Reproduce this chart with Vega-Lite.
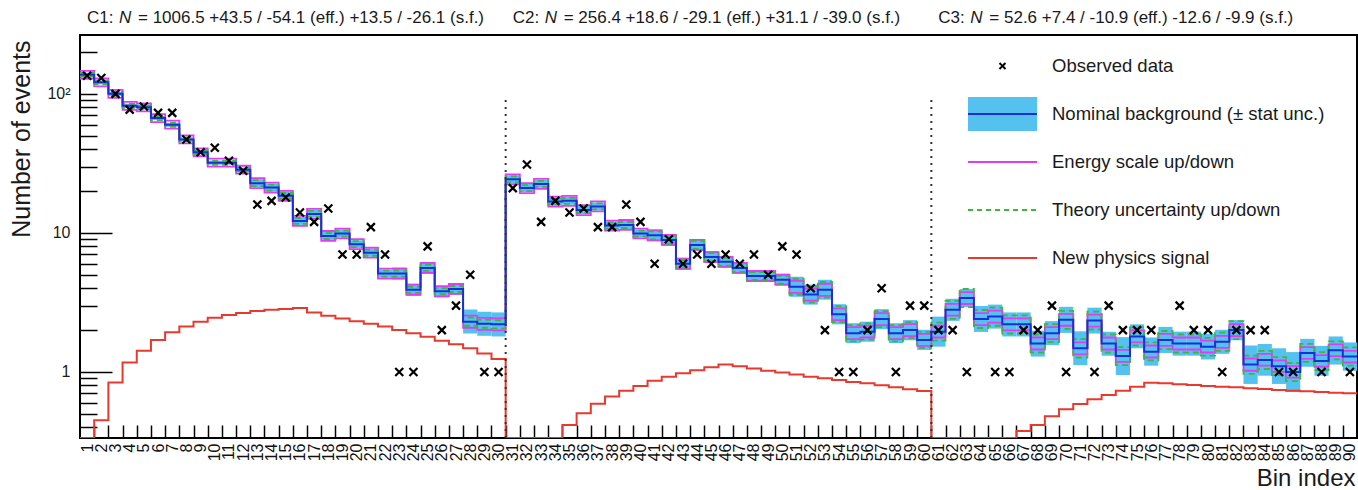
{
"$schema": "https://vega.github.io/schema/vega-lite/v6.json",
"width": 1277, "height": 403,
"autosize": {"type": "none"},
"padding": {"left": 80, "top": 35, "right": 1, "bottom": 52},
"background": "white",
"config": {
 "view": {"stroke": "#000", "strokeWidth": 2},
 "axis": {"labelFont": "Liberation Sans", "titleFont": "Liberation Sans"},
 "text": {"font": "Liberation Sans"}
},
"data": {"values": [
{"b":1,"lo":0.5,"hi":1.5,"nom":137,"nlo":132.5,"nhi":141.7,"eu":146.3,"ed":128.3,"tu":141.7,"td":132.5,"sig":0.3,"obs":135},
{"b":2,"lo":1.5,"hi":2.5,"nom":121,"nlo":117.0,"nhi":125.1,"eu":129.2,"ed":113.3,"tu":125.1,"td":117.0,"sig":0.45,"obs":130},
{"b":3,"lo":2.5,"hi":3.5,"nom":100,"nlo":96.7,"nhi":103.4,"eu":106.8,"ed":93.6,"tu":103.4,"td":96.7,"sig":0.84,"obs":100},
{"b":4,"lo":3.5,"hi":4.5,"nom":82,"nlo":79.3,"nhi":84.8,"eu":87.6,"ed":76.8,"tu":84.8,"td":79.3,"sig":1.17,"obs":77},
{"b":5,"lo":4.5,"hi":5.5,"nom":80,"nlo":77.4,"nhi":82.7,"eu":85.4,"ed":74.9,"tu":82.7,"td":77.4,"sig":1.42,"obs":81},
{"b":6,"lo":5.5,"hi":6.5,"nom":67,"nlo":64.8,"nhi":69.3,"eu":71.6,"ed":62.7,"tu":69.3,"td":64.8,"sig":1.7,"obs":73},
{"b":7,"lo":6.5,"hi":7.5,"nom":60,"nlo":58.0,"nhi":62.0,"eu":64.1,"ed":56.2,"tu":62.0,"td":58.0,"sig":1.93,"obs":73},
{"b":8,"lo":7.5,"hi":8.5,"nom":47,"nlo":45.5,"nhi":48.6,"eu":50.2,"ed":44.0,"tu":48.6,"td":45.5,"sig":2.12,"obs":47},
{"b":9,"lo":8.5,"hi":9.5,"nom":38,"nlo":36.8,"nhi":39.3,"eu":40.6,"ed":35.6,"tu":39.3,"td":36.8,"sig":2.3,"obs":38},
{"b":10,"lo":9.5,"hi":10.5,"nom":32,"nlo":30.9,"nhi":33.1,"eu":34.2,"ed":30.0,"tu":33.1,"td":30.9,"sig":2.45,"obs":41},
{"b":11,"lo":10.5,"hi":11.5,"nom":32,"nlo":30.9,"nhi":33.1,"eu":34.2,"ed":30.0,"tu":33.1,"td":30.9,"sig":2.57,"obs":33},
{"b":12,"lo":11.5,"hi":12.5,"nom":28.5,"nlo":27.6,"nhi":29.5,"eu":30.4,"ed":26.7,"tu":29.5,"td":27.6,"sig":2.66,"obs":28},
{"b":13,"lo":12.5,"hi":13.5,"nom":22.8,"nlo":21.35,"nhi":24.35,"eu":24.76,"ed":21.0,"tu":23.96,"td":21.69,"sig":2.74,"obs":16},
{"b":14,"lo":13.5,"hi":14.5,"nom":21.2,"nlo":19.85,"nhi":22.64,"eu":23.02,"ed":19.52,"tu":22.28,"td":20.17,"sig":2.8,"obs":17},
{"b":15,"lo":14.5,"hi":15.5,"nom":18.5,"nlo":17.32,"nhi":19.76,"eu":20.09,"ed":17.03,"tu":19.44,"td":17.6,"sig":2.84,"obs":18},
{"b":16,"lo":15.5,"hi":16.5,"nom":12.2,"nlo":11.42,"nhi":13.03,"eu":13.25,"ed":11.23,"tu":12.82,"td":11.61,"sig":2.88,"obs":14},
{"b":17,"lo":16.5,"hi":17.5,"nom":13.7,"nlo":12.83,"nhi":14.63,"eu":14.88,"ed":12.62,"tu":14.4,"td":13.04,"sig":2.68,"obs":12},
{"b":18,"lo":17.5,"hi":18.5,"nom":9.5,"nlo":8.9,"nhi":10.15,"eu":10.32,"ed":8.75,"tu":9.98,"td":9.04,"sig":2.54,"obs":15},
{"b":19,"lo":18.5,"hi":19.5,"nom":9.9,"nlo":9.27,"nhi":10.57,"eu":10.75,"ed":9.12,"tu":10.4,"td":9.42,"sig":2.42,"obs":7},
{"b":20,"lo":19.5,"hi":20.5,"nom":8.3,"nlo":7.77,"nhi":8.86,"eu":9.01,"ed":7.64,"tu":8.72,"td":7.9,"sig":2.32,"obs":7},
{"b":21,"lo":20.5,"hi":21.5,"nom":7.2,"nlo":6.74,"nhi":7.69,"eu":7.82,"ed":6.63,"tu":7.57,"td":6.85,"sig":2.22,"obs":11},
{"b":22,"lo":21.5,"hi":22.5,"nom":5.1,"nlo":4.78,"nhi":5.45,"eu":5.54,"ed":4.7,"tu":5.36,"td":4.85,"sig":2.12,"obs":7},
{"b":23,"lo":22.5,"hi":23.5,"nom":5.1,"nlo":4.62,"nhi":5.63,"eu":5.54,"ed":4.7,"tu":5.36,"td":4.85,"sig":2.0,"obs":1},
{"b":24,"lo":23.5,"hi":24.5,"nom":3.9,"nlo":3.53,"nhi":4.31,"eu":4.24,"ed":3.59,"tu":4.1,"td":3.71,"sig":1.9,"obs":1},
{"b":25,"lo":24.5,"hi":25.5,"nom":5.6,"nlo":5.07,"nhi":6.18,"eu":6.08,"ed":5.16,"tu":5.89,"td":5.33,"sig":1.79,"obs":8},
{"b":26,"lo":25.5,"hi":26.5,"nom":3.8,"nlo":3.44,"nhi":4.2,"eu":4.13,"ed":3.5,"tu":3.99,"td":3.62,"sig":1.68,"obs":2},
{"b":27,"lo":26.5,"hi":27.5,"nom":3.95,"nlo":3.58,"nhi":4.36,"eu":4.29,"ed":3.64,"tu":4.15,"td":3.76,"sig":1.58,"obs":3},
{"b":28,"lo":27.5,"hi":28.5,"nom":2.3,"nlo":1.89,"nhi":2.81,"eu":2.54,"ed":2.08,"tu":2.46,"td":2.15,"sig":1.48,"obs":5},
{"b":29,"lo":28.5,"hi":29.5,"nom":2.22,"nlo":1.82,"nhi":2.71,"eu":2.45,"ed":2.01,"tu":2.37,"td":2.08,"sig":1.36,"obs":1},
{"b":30,"lo":29.5,"hi":30.5,"nom":2.2,"nlo":1.8,"nhi":2.68,"eu":2.43,"ed":1.99,"tu":2.35,"td":2.06,"sig":1.24,"obs":1},
{"b":31,"lo":30.5,"hi":31.5,"nom":24.3,"nlo":22.75,"nhi":25.95,"eu":26.39,"ed":22.38,"tu":25.54,"td":23.12,"sig":0.3,"obs":21},
{"b":32,"lo":31.5,"hi":32.5,"nom":21,"nlo":19.66,"nhi":22.43,"eu":22.81,"ed":19.34,"tu":22.07,"td":19.98,"sig":0.3,"obs":31},
{"b":33,"lo":32.5,"hi":33.5,"nom":22.5,"nlo":21.07,"nhi":24.03,"eu":24.44,"ed":20.72,"tu":23.65,"td":21.41,"sig":0.3,"obs":12},
{"b":34,"lo":33.5,"hi":34.5,"nom":16.8,"nlo":15.73,"nhi":17.94,"eu":18.24,"ed":15.47,"tu":17.66,"td":15.98,"sig":0.3,"obs":17},
{"b":35,"lo":34.5,"hi":35.5,"nom":17.0,"nlo":15.92,"nhi":18.16,"eu":18.46,"ed":15.65,"tu":17.87,"td":16.18,"sig":0.416,"obs":14},
{"b":36,"lo":35.5,"hi":36.5,"nom":14.6,"nlo":13.67,"nhi":15.59,"eu":15.86,"ed":13.44,"tu":15.34,"td":13.89,"sig":0.505,"obs":15},
{"b":37,"lo":36.5,"hi":37.5,"nom":15.5,"nlo":14.51,"nhi":16.55,"eu":16.83,"ed":14.27,"tu":16.29,"td":14.75,"sig":0.59,"obs":11},
{"b":38,"lo":37.5,"hi":38.5,"nom":11.3,"nlo":10.58,"nhi":12.07,"eu":12.27,"ed":10.41,"tu":11.88,"td":10.75,"sig":0.665,"obs":11},
{"b":39,"lo":38.5,"hi":39.5,"nom":11.4,"nlo":10.67,"nhi":12.18,"eu":12.38,"ed":10.5,"tu":11.98,"td":10.85,"sig":0.734,"obs":16},
{"b":40,"lo":39.5,"hi":40.5,"nom":9.9,"nlo":9.27,"nhi":10.57,"eu":10.75,"ed":9.12,"tu":10.4,"td":9.42,"sig":0.793,"obs":12},
{"b":41,"lo":40.5,"hi":41.5,"nom":9.6,"nlo":8.7,"nhi":10.6,"eu":10.43,"ed":8.84,"tu":10.25,"td":8.99,"sig":0.866,"obs":6},
{"b":42,"lo":41.5,"hi":42.5,"nom":8.9,"nlo":8.06,"nhi":9.83,"eu":9.67,"ed":8.2,"tu":9.51,"td":8.33,"sig":0.925,"obs":9},
{"b":43,"lo":42.5,"hi":43.5,"nom":6.0,"nlo":5.43,"nhi":6.62,"eu":6.52,"ed":5.52,"tu":6.41,"td":5.62,"sig":0.978,"obs":6},
{"b":44,"lo":43.5,"hi":44.5,"nom":8.2,"nlo":7.43,"nhi":9.05,"eu":8.91,"ed":7.55,"tu":8.76,"td":7.68,"sig":1.03,"obs":7},
{"b":45,"lo":44.5,"hi":45.5,"nom":6.7,"nlo":6.07,"nhi":7.4,"eu":7.28,"ed":6.17,"tu":7.16,"td":6.27,"sig":1.08,"obs":6},
{"b":46,"lo":45.5,"hi":46.5,"nom":6.2,"nlo":5.62,"nhi":6.84,"eu":6.73,"ed":5.71,"tu":6.62,"td":5.81,"sig":1.13,"obs":7},
{"b":47,"lo":46.5,"hi":47.5,"nom":5.6,"nlo":5.07,"nhi":6.18,"eu":6.08,"ed":5.16,"tu":5.98,"td":5.24,"sig":1.1,"obs":6},
{"b":48,"lo":47.5,"hi":48.5,"nom":4.9,"nlo":4.44,"nhi":5.41,"eu":5.32,"ed":4.51,"tu":5.23,"td":4.59,"sig":1.06,"obs":7},
{"b":49,"lo":48.5,"hi":49.5,"nom":4.9,"nlo":4.44,"nhi":5.41,"eu":5.32,"ed":4.51,"tu":5.23,"td":4.59,"sig":1.02,"obs":5},
{"b":50,"lo":49.5,"hi":50.5,"nom":4.6,"nlo":4.17,"nhi":5.08,"eu":5.0,"ed":4.24,"tu":4.91,"td":4.31,"sig":0.99,"obs":8},
{"b":51,"lo":50.5,"hi":51.5,"nom":4.1,"nlo":3.47,"nhi":4.84,"eu":4.53,"ed":3.71,"tu":4.68,"td":3.59,"sig":0.96,"obs":7},
{"b":52,"lo":51.5,"hi":52.5,"nom":3.6,"nlo":3.05,"nhi":4.25,"eu":3.97,"ed":3.26,"tu":4.11,"td":3.15,"sig":0.925,"obs":4},
{"b":53,"lo":52.5,"hi":53.5,"nom":3.9,"nlo":3.31,"nhi":4.6,"eu":4.31,"ed":3.53,"tu":4.45,"td":3.42,"sig":0.9,"obs":2},
{"b":54,"lo":53.5,"hi":54.5,"nom":2.6,"nlo":2.2,"nhi":3.07,"eu":2.87,"ed":2.36,"tu":2.97,"td":2.28,"sig":0.876,"obs":1},
{"b":55,"lo":54.5,"hi":55.5,"nom":1.9,"nlo":1.61,"nhi":2.24,"eu":2.1,"ed":1.72,"tu":2.17,"td":1.66,"sig":0.847,"obs":1},
{"b":56,"lo":55.5,"hi":56.5,"nom":1.95,"nlo":1.65,"nhi":2.3,"eu":2.15,"ed":1.77,"tu":2.23,"td":1.71,"sig":0.829,"obs":2},
{"b":57,"lo":56.5,"hi":57.5,"nom":2.4,"nlo":2.03,"nhi":2.83,"eu":2.65,"ed":2.17,"tu":2.74,"td":2.1,"sig":0.802,"obs":4},
{"b":58,"lo":57.5,"hi":58.5,"nom":1.9,"nlo":1.61,"nhi":2.24,"eu":2.1,"ed":1.72,"tu":2.17,"td":1.66,"sig":0.776,"obs":1},
{"b":59,"lo":58.5,"hi":59.5,"nom":2.0,"nlo":1.69,"nhi":2.36,"eu":2.21,"ed":1.81,"tu":2.28,"td":1.75,"sig":0.751,"obs":3},
{"b":60,"lo":59.5,"hi":60.5,"nom":1.7,"nlo":1.44,"nhi":2.01,"eu":1.88,"ed":1.54,"tu":1.94,"td":1.49,"sig":0.73,"obs":3},
{"b":61,"lo":60.5,"hi":61.5,"nom":1.95,"nlo":1.52,"nhi":2.5,"eu":2.15,"ed":1.77,"tu":2.26,"td":1.68,"sig":0.3,"obs":2},
{"b":62,"lo":61.5,"hi":62.5,"nom":2.8,"nlo":2.33,"nhi":3.36,"eu":3.09,"ed":2.54,"tu":3.25,"td":2.41,"sig":0.3,"obs":2},
{"b":63,"lo":62.5,"hi":63.5,"nom":3.4,"nlo":2.93,"nhi":3.95,"eu":3.75,"ed":3.08,"tu":3.95,"td":2.93,"sig":0.3,"obs":1},
{"b":64,"lo":63.5,"hi":64.5,"nom":2.4,"nlo":1.94,"nhi":2.98,"eu":2.65,"ed":2.17,"tu":2.79,"td":2.07,"sig":0.3,"obs":null},
{"b":65,"lo":64.5,"hi":65.5,"nom":2.5,"nlo":2.05,"nhi":3.05,"eu":2.76,"ed":2.26,"tu":2.9,"td":2.15,"sig":0.3,"obs":1},
{"b":66,"lo":65.5,"hi":66.5,"nom":2.2,"nlo":1.8,"nhi":2.68,"eu":2.43,"ed":1.99,"tu":2.55,"td":1.89,"sig":0.3,"obs":1},
{"b":67,"lo":66.5,"hi":67.5,"nom":2.2,"nlo":1.8,"nhi":2.68,"eu":2.43,"ed":1.99,"tu":2.55,"td":1.89,"sig":0.376,"obs":2},
{"b":68,"lo":67.5,"hi":68.5,"nom":1.6,"nlo":1.29,"nhi":1.98,"eu":1.77,"ed":1.45,"tu":1.86,"td":1.38,"sig":0.416,"obs":2},
{"b":69,"lo":68.5,"hi":69.5,"nom":1.9,"nlo":1.56,"nhi":2.32,"eu":2.1,"ed":1.72,"tu":2.21,"td":1.64,"sig":0.48,"obs":3},
{"b":70,"lo":69.5,"hi":70.5,"nom":2.37,"nlo":1.91,"nhi":2.94,"eu":2.62,"ed":2.15,"tu":2.75,"td":2.04,"sig":0.539,"obs":1},
{"b":71,"lo":70.5,"hi":71.5,"nom":1.48,"nlo":1.12,"nhi":1.96,"eu":1.63,"ed":1.34,"tu":1.72,"td":1.27,"sig":0.589,"obs":null},
{"b":72,"lo":71.5,"hi":72.5,"nom":2.34,"nlo":1.89,"nhi":2.9,"eu":2.58,"ed":2.12,"tu":2.72,"td":2.02,"sig":0.636,"obs":1},
{"b":73,"lo":72.5,"hi":73.5,"nom":1.6,"nlo":1.31,"nhi":1.95,"eu":1.77,"ed":1.45,"tu":1.86,"td":1.38,"sig":0.683,"obs":3},
{"b":74,"lo":73.5,"hi":74.5,"nom":1.3,"nlo":0.95,"nhi":1.78,"eu":1.44,"ed":1.18,"tu":1.51,"td":1.12,"sig":0.734,"obs":2},
{"b":75,"lo":74.5,"hi":75.5,"nom":1.8,"nlo":1.48,"nhi":2.2,"eu":1.99,"ed":1.63,"tu":2.09,"td":1.55,"sig":0.784,"obs":2},
{"b":76,"lo":75.5,"hi":76.5,"nom":1.4,"nlo":1.11,"nhi":1.77,"eu":1.55,"ed":1.27,"tu":1.63,"td":1.21,"sig":0.838,"obs":2},
{"b":77,"lo":76.5,"hi":77.5,"nom":1.7,"nlo":1.37,"nhi":2.11,"eu":1.88,"ed":1.54,"tu":1.97,"td":1.46,"sig":0.829,"obs":null},
{"b":78,"lo":77.5,"hi":78.5,"nom":1.6,"nlo":1.31,"nhi":1.95,"eu":1.77,"ed":1.45,"tu":1.86,"td":1.38,"sig":0.815,"obs":3},
{"b":79,"lo":78.5,"hi":79.5,"nom":1.6,"nlo":1.31,"nhi":1.95,"eu":1.77,"ed":1.45,"tu":1.86,"td":1.38,"sig":0.806,"obs":2},
{"b":80,"lo":79.5,"hi":80.5,"nom":1.52,"nlo":1.23,"nhi":1.88,"eu":1.68,"ed":1.38,"tu":1.76,"td":1.31,"sig":0.793,"obs":2},
{"b":81,"lo":80.5,"hi":81.5,"nom":1.65,"nlo":1.35,"nhi":2.01,"eu":1.82,"ed":1.49,"tu":1.92,"td":1.42,"sig":0.784,"obs":1},
{"b":82,"lo":81.5,"hi":82.5,"nom":2.0,"nlo":1.69,"nhi":2.36,"eu":2.21,"ed":1.81,"tu":2.32,"td":1.72,"sig":0.776,"obs":2},
{"b":83,"lo":82.5,"hi":83.5,"nom":1.13,"nlo":0.82,"nhi":1.55,"eu":1.25,"ed":1.02,"tu":1.31,"td":0.97,"sig":0.763,"obs":2},
{"b":84,"lo":83.5,"hi":84.5,"nom":1.22,"nlo":0.94,"nhi":1.59,"eu":1.35,"ed":1.11,"tu":1.42,"td":1.05,"sig":0.755,"obs":2},
{"b":85,"lo":84.5,"hi":85.5,"nom":1.1,"nlo":0.82,"nhi":1.48,"eu":1.21,"ed":1.0,"tu":1.28,"td":0.95,"sig":0.742,"obs":1},
{"b":86,"lo":85.5,"hi":86.5,"nom":1.0,"nlo":0.72,"nhi":1.39,"eu":1.1,"ed":0.91,"tu":1.16,"td":0.86,"sig":0.734,"obs":1},
{"b":87,"lo":86.5,"hi":87.5,"nom":1.37,"nlo":1.09,"nhi":1.73,"eu":1.51,"ed":1.24,"tu":1.59,"td":1.18,"sig":0.726,"obs":null},
{"b":88,"lo":87.5,"hi":88.5,"nom":1.2,"nlo":0.94,"nhi":1.54,"eu":1.32,"ed":1.09,"tu":1.39,"td":1.03,"sig":0.718,"obs":1},
{"b":89,"lo":88.5,"hi":89.5,"nom":1.43,"nlo":1.13,"nhi":1.8,"eu":1.58,"ed":1.3,"tu":1.66,"td":1.23,"sig":0.71,"obs":null},
{"b":90,"lo":89.5,"hi":90.5,"nom":1.29,"nlo":1.02,"nhi":1.63,"eu":1.42,"ed":1.17,"tu":1.5,"td":1.11,"sig":0.703,"obs":1}
]},
"layer": [
 {"layer": [
  {"mark": {"type": "rect", "fill": "#55c1ef", "opacity": 1, "clip": true},
   "encoding": {
    "x": {"field": "lo", "type": "quantitative", "title": "Bin index",
      "scale": {"domain": [0.5, 90.5], "nice": false, "zero": false},
      "axis": {"values": [1,1.5,2,2.5,3,3.5,4,4.5,5,5.5,6,6.5,7,7.5,8,8.5,9,9.5,10,10.5,11,11.5,12,12.5,13,13.5,14,14.5,15,15.5,16,16.5,17,17.5,18,18.5,19,19.5,20,20.5,21,21.5,22,22.5,23,23.5,24,24.5,25,25.5,26,26.5,27,27.5,28,28.5,29,29.5,30,30.5,31,31.5,32,32.5,33,33.5,34,34.5,35,35.5,36,36.5,37,37.5,38,38.5,39,39.5,40,40.5,41,41.5,42,42.5,43,43.5,44,44.5,45,45.5,46,46.5,47,47.5,48,48.5,49,49.5,50,50.5,51,51.5,52,52.5,53,53.5,54,54.5,55,55.5,56,56.5,57,57.5,58,58.5,59,59.5,60,60.5,61,61.5,62,62.5,63,63.5,64,64.5,65,65.5,66,66.5,67,67.5,68,68.5,69,69.5,70,70.5,71,71.5,72,72.5,73,73.5,74,74.5,75,75.5,76,76.5,77,77.5,78,78.5,79,79.5,80,80.5,81,81.5,82,82.5,83,83.5,84,84.5,85,85.5,86,86.5,87,87.5,88,88.5,89,89.5,90],
        "tickCount": 500,
        "labelExpr": "datum.value % 1 === 0 ? format(datum.value, 'd') : ''",
        "labelAngle": 270, "labelAlign": "right", "labelBaseline": "middle",
        "labelFontSize": 16, "labelColor": "#111111", "labelOverlap": false, "labelFlush": false, "labelBound": false,
        "labelPadding": 18, "tickSize": -13, "tickWidth": 1.5,
        "tickColor": {"condition": {"test": "datum.value % 1 === 0", "value": "transparent"}, "value": "#000000"},
        "domain": false, "grid": false,
        "titleFontSize": 24, "titleFontWeight": "normal", "titleColor": "#1a1a1a",
        "titleAlign": "right", "titleBaseline": "alphabetic", "titleAngle": 0, "titleX": 1275, "titleY": 47}},
    "x2": {"field": "hi"},
    "y": {"field": "nlo", "type": "quantitative", "title": "Number of events",
      "scale": {"type": "log", "domain": [0.335, 265], "clamp": true, "nice": false, "zero": false},
      "axis": {"values": [0.4,0.5,0.6,0.7,0.8,0.9,1,2,3,4,5,6,7,8,9,10,20,30,40,50,60,70,80,90,100,200],
        "tickCount": 500,
        "labelExpr": "datum.value === 1 ? '1' : datum.value === 10 ? '10' : datum.value === 100 ? '10²' : ''",
        "labelFontSize": 16, "labelColor": "#1a1a1a", "labelOverlap": false, "labelFlush": false, "labelBound": false,
        "labelPadding": 42, "tickSize": -32, "tickWidth": 1.5, "tickColor": "#000",
        "tickDash": {"condition": {"test": "datum.value === 1 || datum.value === 10", "value": [1, 0]}, "value": [17, 100]},
        "domain": false, "grid": false,
        "titleFontSize": 25, "titleFontWeight": "normal", "titleColor": "#1a1a1a",
        "titleAngle": 270, "titleAlign": "right", "titleBaseline": "middle", "titleX": -59, "titleY": 5}},
    "y2": {"field": "nhi"}
   }},
  {"transform": [{"fold": ["lo", "hi"], "as": ["edge", "xe"]}, {"fold": ["eu", "ed"], "as": ["var", "val"]}],
   "mark": {"type": "line", "strokeWidth": 1.8, "clip": true},
   "encoding": {
    "x": {"field": "xe", "type": "quantitative", "title": "Bin index"},
    "y": {"field": "val", "type": "quantitative", "title": "Number of events"},
    "detail": {"field": "var"},
    "color": {"datum": "Energy scale up/down", "type": "nominal",
      "scale": {"domain": ["Observed data", "Nominal background (± stat unc.)", "Energy scale up/down", "Theory uncertainty up/down", "New physics signal"],
                "range": ["#000000", "#1a2fd8", "#e23cf2", "#3db83d", "#e8392e"]},
      "legend": {"title": null, "orient": "none", "legendX": 911.5, "legendY": 20, "padding": 0, "rowPadding": 0, "offset": 0,
        "direction": "vertical", "symbolSize": 400, "symbolStrokeWidth": 2, "symbolOffset": 0, "labelOffset": 38.5,
        "labelFontSize": 18.5, "labelFont": "Liberation Sans", "labelColor": "#1a1a1a", "labelLimit": 500,
        "encode": {"symbols": {"update": {
          "shape": {"signal": "datum.value === 'Observed data' ? 'M-0.3,-0.3L0.3,0.3M-0.3,0.3L0.3,-0.3M-3.45,-2M3.45,2' : indexof(datum.value, 'Nominal') === 0 ? 'M-3.45,0H3.45V-1.7H-3.45V1.7H3.45V0M-3.45,-2M3.45,2' : 'M-3.45,0H3.45M-3.45,-2M3.45,2'"},
          "fill": {"signal": "indexof(datum.value, 'Nominal') === 0 ? '#55c1ef' : 'transparent'"},
          "stroke": {"signal": "datum.value === 'Observed data' ? '#000000' : indexof(datum.value, 'Nominal') === 0 ? '#1a2fd8' : datum.value === 'Energy scale up/down' ? '#e23cf2' : datum.value === 'New physics signal' ? '#e8392e' : '#3db83d'"},
          "strokeDash": {"signal": "datum.value === 'Theory uncertainty up/down' ? [5, 4] : indexof(datum.value, 'Nominal') === 0 ? [69, 500] : [1, 0]"},
          "strokeWidth": {"value": 2},
          "opacity": {"value": 1}
        }}}}}
   }},
  {"transform": [{"fold": ["lo", "hi"], "as": ["edge", "xe"]}, {"fold": ["tu", "td"], "as": ["var", "val"]}],
   "mark": {"type": "line", "strokeWidth": 1.8, "strokeDash": [6, 4], "clip": true},
   "encoding": {
    "x": {"field": "xe", "type": "quantitative", "title": "Bin index"},
    "y": {"field": "val", "type": "quantitative", "title": "Number of events"},
    "detail": {"field": "var"},
    "color": {"datum": "Theory uncertainty up/down", "type": "nominal"}
   }},
  {"transform": [{"fold": ["lo", "hi"], "as": ["edge", "xe"]}],
   "mark": {"type": "line", "strokeWidth": 2, "clip": true},
   "encoding": {
    "x": {"field": "xe", "type": "quantitative", "title": "Bin index"},
    "y": {"field": "nom", "type": "quantitative", "title": "Number of events"},
    "color": {"datum": "Nominal background (± stat unc.)", "type": "nominal"}
   }},
  {"transform": [{"fold": ["lo", "hi"], "as": ["edge", "xe"]}],
   "mark": {"type": "line", "strokeWidth": 2, "clip": true},
   "encoding": {
    "x": {"field": "xe", "type": "quantitative", "title": "Bin index"},
    "y": {"field": "sig", "type": "quantitative", "title": "Number of events"},
    "color": {"datum": "New physics signal", "type": "nominal"}
   }},
  {"data": {"values": [{"x": 30.5, "ya": 0.3, "yb": 95}, {"x": 60.5, "ya": 0.3, "yb": 95}]},
   "mark": {"type": "rule", "strokeDash": [2, 5], "strokeWidth": 2, "color": "#333333"},
   "encoding": {
    "x": {"field": "x", "type": "quantitative", "title": "Bin index"},
    "y": {"field": "ya", "type": "quantitative", "title": "Number of events"},
    "y2": {"field": "yb"}
   }},
  {"mark": {"type": "point", "shape": "M-1,-1L1,1M-1,1L1,-1", "filled": false, "size": 64, "strokeWidth": 2.2, "opacity": 1},
   "encoding": {
    "x": {"field": "b", "type": "quantitative", "title": "Bin index"},
    "y": {"field": "obs", "type": "quantitative", "title": "Number of events"},
    "color": {"datum": "Observed data", "type": "nominal"}
   }}
 ]},
 {"data": {"values": [
   {"start": 0.5, "c": "C1:", "r": "= 1006.5 +43.5 / -54.1 (eff.) +13.5 / -26.1 (s.f.)"},
   {"start": 30.5, "c": "C2:", "r": "= 256.4 +18.6 / -29.1 (eff.) +31.1 / -39.0 (s.f.)"},
   {"start": 60.5, "c": "C3:", "r": "= 52.6 +7.4 / -10.9 (eff.) -12.6 / -9.9 (s.f.)"}
  ]},
  "encoding": {
   "x": {"field": "start", "type": "quantitative", "scale": {"domain": [0.5, 90.5], "nice": false, "zero": false}, "axis": null},
   "y": {"datum": 1.042, "type": "quantitative", "scale": {"domain": [0, 1], "nice": false, "zero": false}, "axis": null}
  },
  "layer": [
   {"mark": {"type": "text", "align": "left", "baseline": "middle", "dx": 7, "fontSize": 17, "font": "Liberation Sans", "color": "#1a1a1a"},
    "encoding": {"text": {"field": "c"}}},
   {"mark": {"type": "text", "align": "left", "baseline": "middle", "dx": 39, "fontSize": 17, "font": "Liberation Sans", "fontStyle": "italic", "color": "#1a1a1a"},
    "encoding": {"text": {"value": "N"}}},
   {"mark": {"type": "text", "align": "left", "baseline": "middle", "dx": 58, "fontSize": 17, "font": "Liberation Sans", "color": "#1a1a1a"},
    "encoding": {"text": {"field": "r"}}}
  ]}
],
"resolve": {"scale": {"x": "independent", "y": "independent"}, "axis": {"x": "independent", "y": "independent"}}
}
